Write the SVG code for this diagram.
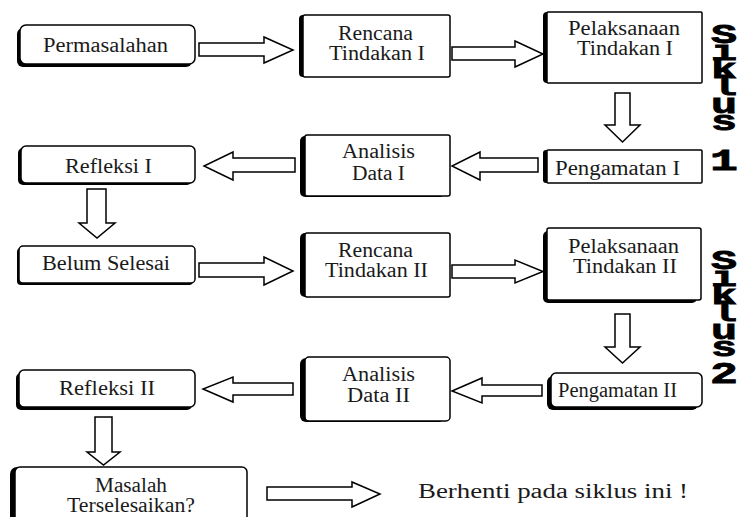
<svg xmlns="http://www.w3.org/2000/svg" width="739" height="517" viewBox="0 0 739 517">
<style>
.sh{fill:#000}
.bx{fill:#fff;stroke:#000;stroke-width:1.5}
.ar{fill:#fff;stroke:#000;stroke-width:1.5;stroke-linejoin:miter}
.t{font-family:"Liberation Serif","Times New Roman",serif;font-size:20px;fill:#1a1a1a}
.sk{font-family:"Liberation Mono","Courier New",monospace;font-weight:bold;fill:#000;stroke:#000;stroke-width:0.8}
.vt{writing-mode:vertical-rl;text-orientation:upright;font-size:28px;letter-spacing:-14px}
.dg{text-anchor:middle;font-size:30px}
</style>
<rect width="739" height="517" fill="#fff"/>
<g id="connectors">
<path class="ar" d="M199,43 H264 V37 L293,50 L264,63 V56 H199 Z"/>
<path class="ar" d="M452,47 H515 V41 L543,54 L515,67 V60 H452 Z"/>
<path class="ar" d="M615,93 V125 H605 L622.5,142 L640,125 H630 V93 Z"/>
<path class="ar" d="M538,158 H480 V152 L452,166 L480,180 V172 H538 Z"/>
<path class="ar" d="M295,158 H233 V152 L204,166 L233,180 V172 H295 Z"/>
<path class="ar" d="M87,189 V223 H79 L97,238 L115,223 H106 V189 Z"/>
<path class="ar" d="M199,263 H264 V257 L293,271 L264,285 V277 H199 Z"/>
<path class="ar" d="M452,265 H515 V260 L543,271.5 L515,283 V278 H452 Z"/>
<path class="ar" d="M615,314 V347 H605 L622.5,363 L640,347 H630 V314 Z"/>
<path class="ar" d="M542,385 H482 V378 L452,391 L482,403 V396 H542 Z"/>
<path class="ar" d="M293,383 H233 V377 L203,389 L233,402 V395 H293 Z"/>
<path class="ar" d="M95,417 V452 H87 L103.5,465 L120,452 H112 V417 Z"/>
<path class="ar" d="M267,487 H352 V482 L380,494 L352,507 V500 H267 Z"/>
</g>
<g id="permasalahan">
<rect class="sh" x="17" y="28" width="175" height="39" rx="6"/>
<rect class="bx" x="20" y="25" width="175" height="39" rx="6"/>
<text class="t" x="43" y="52" textLength="125" lengthAdjust="spacingAndGlyphs">Permasalahan</text>
</g>
<g id="rencana1">
<rect class="sh" x="299" y="15" width="147" height="62" rx="4"/>
<rect class="bx" x="303" y="15" width="147" height="62" rx="2"/>
<text class="t" x="338" y="40" textLength="75" lengthAdjust="spacingAndGlyphs">Rencana</text>
<text class="t" x="329" y="60" textLength="96" lengthAdjust="spacingAndGlyphs">Tindakan I</text>
</g>
<g id="pelaksanaan1">
<rect class="sh" x="543" y="12" width="155" height="71" rx="4"/>
<rect class="bx" x="547" y="12" width="155" height="71" rx="1"/>
<text class="t" x="568" y="35" textLength="112" lengthAdjust="spacingAndGlyphs">Pelaksanaan</text>
<text class="t" x="577" y="55" textLength="96" lengthAdjust="spacingAndGlyphs">Tindakan I</text>
</g>
<g id="pengamatan1">
<rect class="sh" x="543" y="150" width="155" height="33" rx="3"/>
<rect class="bx" x="547" y="150" width="155" height="33" rx="1"/>
<text class="t" x="555" y="175" textLength="125" lengthAdjust="spacingAndGlyphs">Pengamatan I</text>
</g>
<g id="analisis1">
<rect class="sh" x="300" y="136" width="145" height="61" rx="5"/>
<rect class="bx" x="305" y="135" width="145" height="61" rx="2"/>
<text class="t" x="342" y="158" textLength="73" lengthAdjust="spacingAndGlyphs">Analisis</text>
<text class="t" x="352" y="180" textLength="53" lengthAdjust="spacingAndGlyphs">Data I</text>
</g>
<g id="refleksi1">
<rect class="sh" x="18" y="148" width="174" height="37" rx="5"/>
<rect class="bx" x="21" y="146" width="174" height="37" rx="5"/>
<text class="t" x="65" y="173" textLength="87" lengthAdjust="spacingAndGlyphs">Refleksi I</text>
</g>
<g id="belum-selesai">
<rect class="sh" x="17" y="248" width="176" height="37" rx="4"/>
<rect class="bx" x="19" y="246" width="176" height="37" rx="4"/>
<text class="t" x="42" y="270" textLength="128" lengthAdjust="spacingAndGlyphs">Belum Selesai</text>
</g>
<g id="rencana2">
<rect class="sh" x="300" y="233" width="145" height="64" rx="5"/>
<rect class="bx" x="305" y="233" width="145" height="64" rx="2"/>
<text class="t" x="338" y="257" textLength="75" lengthAdjust="spacingAndGlyphs">Rencana</text>
<text class="t" x="325" y="277" textLength="103" lengthAdjust="spacingAndGlyphs">Tindakan II</text>
</g>
<g id="pelaksanaan2">
<rect class="sh" x="543" y="231" width="154" height="72" rx="5"/>
<rect class="bx" x="547" y="228" width="154" height="72" rx="2"/>
<text class="t" x="568" y="253" textLength="111" lengthAdjust="spacingAndGlyphs">Pelaksanaan</text>
<text class="t" x="573" y="273" textLength="104" lengthAdjust="spacingAndGlyphs">Tindakan II</text>
</g>
<g id="pengamatan2">
<rect class="sh" x="547" y="376" width="151" height="34" rx="6"/>
<rect class="bx" x="551" y="373" width="151" height="34" rx="5"/>
<text class="t" x="558" y="397" textLength="119" lengthAdjust="spacingAndGlyphs">Pengamatan II</text>
</g>
<g id="analisis2">
<rect class="sh" x="300" y="358" width="145" height="64" rx="6"/>
<rect class="bx" x="305" y="357" width="145" height="64" rx="4"/>
<text class="t" x="342" y="381" textLength="73" lengthAdjust="spacingAndGlyphs">Analisis</text>
<text class="t" x="347" y="402" textLength="63" lengthAdjust="spacingAndGlyphs">Data II</text>
</g>
<g id="refleksi2">
<rect class="sh" x="16" y="373" width="176" height="37" rx="5"/>
<rect class="bx" x="19" y="370" width="176" height="37" rx="5"/>
<text class="t" x="59" y="395" textLength="96" lengthAdjust="spacingAndGlyphs">Refleksi II</text>
</g>
<g id="masalah">
<rect class="sh" x="10" y="467" width="232" height="73" rx="7"/>
<rect class="bx" x="15" y="467" width="232" height="73" rx="5"/>
<text class="t" x="95" y="492" textLength="72" lengthAdjust="spacingAndGlyphs">Masalah</text>
<text class="t" x="67" y="512" textLength="128" lengthAdjust="spacingAndGlyphs">Terselesaikan?</text>
</g>
<g id="berhenti">
<text class="t" x="418" y="498" textLength="270" lengthAdjust="spacingAndGlyphs">Berhenti pada siklus ini !</text>
</g>
<g id="siklus1" transform="translate(724,0) scale(1.55,1)">
<text class="sk vt" x="0" y="20">Siklus</text>
<text class="sk dg" x="0" y="170">1</text>
</g>
<g id="siklus2" transform="translate(724,0) scale(1.55,1)">
<text class="sk vt" x="0" y="246">Siklus</text>
<text class="sk dg" x="0" y="383">2</text>
</g>
</svg>
